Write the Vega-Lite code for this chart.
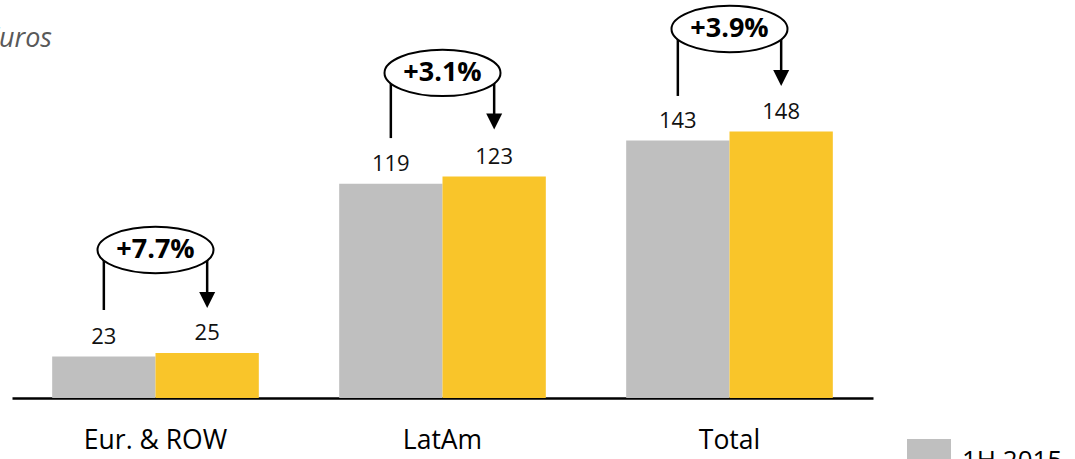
{
  "$schema": "https://vega.github.io/schema/vega-lite/v6.json",
  "width": 861,
  "height": 396,
  "autosize": {"type": "none"},
  "padding": {"left": 12, "top": 2, "right": 202, "bottom": 61},
  "background": "white",
  "title": {
    "text": "Million Euros",
    "anchor": "start",
    "align": "right",
    "baseline": "alphabetic",
    "orient": "top",
    "offset": 0,
    "dx": 40,
    "dy": 72,
    "font": "Open Sans",
    "fontSize": 27,
    "fontStyle": "italic",
    "fontWeight": "normal",
    "color": "#595959"
  },
  "config": {
    "view": {"stroke": null},
    "font": "Open Sans"
  },
  "datasets": {
    "bars": [
      {"region": "Eur. & ROW", "period": "1H 2015", "value": 23},
      {"region": "Eur. & ROW", "period": "1H 2016", "value": 25},
      {"region": "LatAm", "period": "1H 2015", "value": 119},
      {"region": "LatAm", "period": "1H 2016", "value": 123},
      {"region": "Total", "period": "1H 2015", "value": 143},
      {"region": "Total", "period": "1H 2016", "value": 148}
    ],
    "lines": [
      {"region": "Eur. & ROW", "period": "1H 2015", "top": 82.2, "bottom": 48.9},
      {"region": "Eur. & ROW", "period": "1H 2016", "top": 82.2, "bottom": 54.4},
      {"region": "LatAm", "period": "1H 2015", "top": 180.6, "bottom": 144.4},
      {"region": "LatAm", "period": "1H 2016", "top": 180.6, "bottom": 153.6},
      {"region": "Total", "period": "1H 2015", "top": 205, "bottom": 167.8},
      {"region": "Total", "period": "1H 2016", "top": 205, "bottom": 177.8}
    ],
    "arrows": [
      {"region": "Eur. & ROW", "period": "1H 2016", "y": 54.4},
      {"region": "LatAm", "period": "1H 2016", "y": 153.6},
      {"region": "Total", "period": "1H 2016", "y": 177.8}
    ],
    "growth": [
      {"region": "Eur. & ROW", "y": 82.2, "label": "+7.7%"},
      {"region": "LatAm", "y": 180.6, "label": "+3.1%"},
      {"region": "Total", "y": 205, "label": "+3.9%"}
    ]
  },
  "encoding": {
    "x": {
      "field": "region",
      "type": "nominal",
      "sort": ["Eur. & ROW", "LatAm", "Total"],
      "scale": {"paddingInner": 0.28, "paddingOuter": 0.14},
      "axis": {
        "title": null,
        "domainColor": "#000000",
        "domainWidth": 2.5,
        "ticks": false,
        "labelAngle": 0,
        "labelFont": "Open Sans",
        "labelFontSize": 26.5,
        "labelColor": "#000000",
        "labelBaseline": "middle",
        "labelPadding": 42
      }
    }
  },
  "layer": [
    {
      "data": {"name": "bars"},
      "mark": {"type": "bar"},
      "encoding": {
        "xOffset": {"field": "period", "type": "nominal", "sort": ["1H 2015", "1H 2016"]},
        "y": {"field": "value", "type": "quantitative", "scale": {"domain": [0, 220], "nice": false}, "axis": null},
        "color": {
          "field": "period",
          "type": "nominal",
          "scale": {"domain": ["1H 2015", "1H 2016"], "range": ["#BFBFBF", "#F9C52A"]},
          "legend": {
            "title": null,
            "orient": "none",
            "legendX": 895,
            "legendY": 437,
            "padding": 0,
            "symbolType": "square",
            "symbolSize": 1936,
            "symbolStrokeWidth": 0,
            "labelFont": "Open Sans",
            "labelFontSize": 26,
            "labelColor": "#000000",
            "labelOffset": 11,
            "rowPadding": 10
          }
        }
      }
    },
    {
      "data": {"name": "bars"},
      "mark": {"type": "text", "dy": -20, "baseline": "middle", "font": "Open Sans", "fontSize": 22, "color": "#111111"},
      "encoding": {
        "xOffset": {"field": "period", "type": "nominal", "sort": ["1H 2015", "1H 2016"]},
        "y": {"field": "value", "type": "quantitative"},
        "text": {"field": "value", "type": "quantitative"}
      }
    },
    {
      "data": {"name": "lines"},
      "mark": {"type": "rule", "color": "#000000", "strokeWidth": 2.5},
      "encoding": {
        "xOffset": {"field": "period", "type": "nominal", "sort": ["1H 2015", "1H 2016"]},
        "y": {"field": "top", "type": "quantitative"},
        "y2": {"field": "bottom"}
      }
    },
    {
      "data": {"name": "arrows"},
      "mark": {"type": "point", "shape": "M-1,-1L1,-1L0,1Z", "size": 256, "filled": true, "color": "#000000", "opacity": 1},
      "encoding": {
        "xOffset": {"field": "period", "type": "nominal", "sort": ["1H 2015", "1H 2016"]},
        "y": {"field": "y", "type": "quantitative"}
      }
    },
    {
      "data": {"name": "growth"},
      "mark": {"type": "point", "shape": "M-1,0A1,0.4,0,1,0,1,0A1,0.4,0,1,0,-1,0Z", "size": 13456, "filled": true, "fill": "#FFFFFF", "stroke": "#000000", "strokeWidth": 2, "opacity": 1, "fillOpacity": 1, "strokeOpacity": 1},
      "encoding": {
        "y": {"field": "y", "type": "quantitative"}
      }
    },
    {
      "data": {"name": "growth"},
      "mark": {"type": "text", "baseline": "middle", "font": "Open Sans", "fontSize": 27, "fontWeight": "bold", "color": "#000000"},
      "encoding": {
        "y": {"field": "y", "type": "quantitative"},
        "text": {"field": "label", "type": "nominal"}
      }
    }
  ]
}
